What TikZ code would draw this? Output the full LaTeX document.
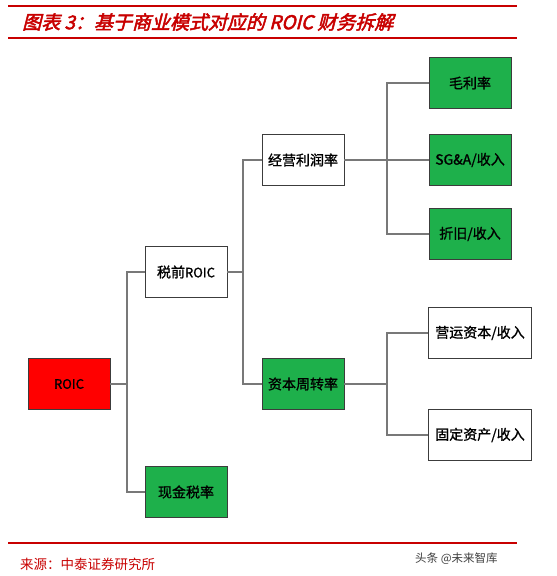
\documentclass[tikz,border=0pt]{standalone}
\usepackage{fontspec}
\setmainfont{Liberation Serif}
\newfontfamily\cjk[FakeBold=1.2]{Noto Sans CJK SC}
\newfontfamily\cjkplain{Noto Sans CJK SC}
\newfontfamily\cjktitle[FakeSlant=0.25,FakeBold=2.5]{Noto Sans CJK SC}
\definecolor{boxgreen}{RGB}{30,176,75}
\definecolor{titlered}{RGB}{200,0,0}
\definecolor{linegray}{RGB}{120,120,120}
\definecolor{bordergray}{RGB}{60,60,60}
\tikzset{
  box/.style={draw=bordergray, line width=0.9pt, minimum width=82pt, minimum height=51pt, inner sep=0pt, font=\cjk\fontsize{14}{14}\selectfont, anchor=center},
  widebox/.style={box, minimum width=103pt},
  greenbox/.style={box, fill=boxgreen},
  whitebox/.style={box, fill=white},
  redbox/.style={box, fill=red},
  conn/.style={draw=linegray, line width=1.4pt},
}
\begin{document}
\begin{tikzpicture}[x=1pt,y=-1pt]
\useasboundingbox (0,0) rectangle (557,576);
\fill[white] (0,0) rectangle (557,576);
% title rules
\draw[titlered, line width=2pt] (8,6) -- (517,6);
\draw[titlered, line width=2pt] (8,37.5) -- (517,37.5);
\node[anchor=west, text=titlered, font=\cjktitle\fontsize{19}{19}\selectfont, inner sep=0pt] (title) at (22,22) {图表 3：基于商业模式对应的 ROIC 财务拆解};
% footer
\draw[titlered, line width=1.6pt] (8,543) -- (517,543);
\node[anchor=west, text=titlered, font=\cjkplain\fontsize{13.5}{13.5}\selectfont, inner sep=0pt] (src) at (20,564) {来源：中泰证券研究所};
\node[anchor=west, text=black!75, font=\cjkplain\fontsize{11.5}{11.5}\selectfont, inner sep=0pt] (wm) at (415,559) {头条 @未来智库};
% nodes
\node[redbox] (roic) at (69,384) {\fontsize{13}{13}\selectfont ROIC};
\node[whitebox] (pre) at (186,272) {税前\fontsize{13}{13}\selectfont ROIC};
\node[greenbox] (tax) at (186,492) {现金税率};
\node[whitebox] (opm) at (303,160) {经营利润率};
\node[greenbox] (turn) at (303,384) {资本周转率};
\node[greenbox] (gm) at (470,83) {毛利率};
\node[greenbox] (sga) at (470,160) {SG\&A/收入};
\node[greenbox] (dep) at (470,234) {折旧/收入};
\node[whitebox, widebox] (wc) at (480,333) {营运资本/收入};
\node[whitebox, widebox] (fa) at (480,435) {固定资产/收入};
% connectors
\coordinate (j1) at (127,384);
\draw[conn] (roic.east) -- (j1);
\draw[conn] (pre.west) -| (j1);
\draw[conn] (tax.west) -| (j1);
\coordinate (j2) at (243,272);
\draw[conn] (pre.east) -- (j2);
\draw[conn] (opm.west) -| (j2);
\draw[conn] (turn.west) -| (j2);
\coordinate (j3) at (387,160);
\draw[conn] (opm.east) -- (j3);
\draw[conn] (gm.west) -| (j3);
\draw[conn] (sga.west) -- (j3);
\draw[conn] (dep.west) -| (j3);
\coordinate (j4) at (387,384);
\draw[conn] (turn.east) -- (j4);
\draw[conn] (wc.west) -| (j4);
\draw[conn] (fa.west) -| (j4);
\end{tikzpicture}
\end{document}
